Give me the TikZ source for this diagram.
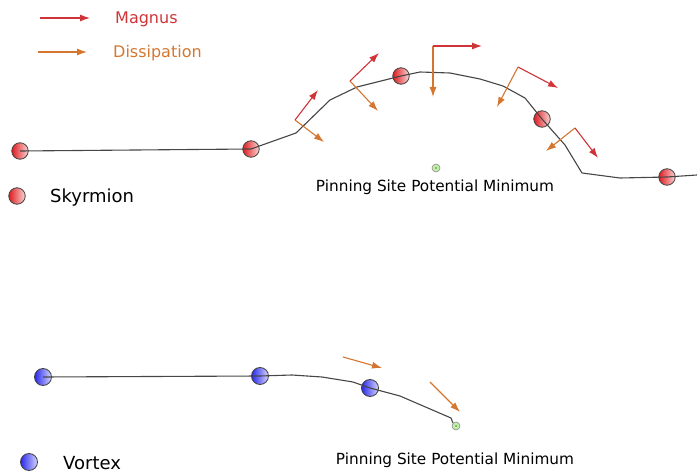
\documentclass[tikz,border=0pt]{standalone}
\usepackage{fontspec}
\setmainfont{DejaVu Sans}
\usetikzlibrary{arrows.meta}
\definecolor{magnus}{RGB}{208,52,56}
\definecolor{dissip}{RGB}{212,118,48}
\definecolor{track}{RGB}{70,70,70}
\tikzset{
  skball/.style={circle, draw=black!75, line width=0.8pt, minimum size=16.5pt, inner sep=0pt,
    left color={rgb,255:red,222;green,28;blue,32}, right color={rgb,255:red,250;green,212;blue,212}},
  vxball/.style={circle, draw=black!75, line width=0.8pt, minimum size=17pt, inner sep=0pt,
    left color={rgb,255:red,40;green,40;blue,235}, right color={rgb,255:red,214;green,214;blue,255}},
  pinsite/.style={circle, draw=black!45, line width=0.6pt, minimum size=8pt, inner sep=0pt,
    fill={rgb,255:red,196;green,236;blue,172}},
  pindot/.style={circle, fill={rgb,255:red,110;green,196;blue,80}, minimum size=2.5pt, inner sep=0pt},
  trackline/.style={draw=track, line width=1.1pt, line join=round},
  magarrow/.style={draw=magnus, line width=1.1pt, -{Latex[length=10pt,width=7pt]}},
  disarrow/.style={draw=dissip, line width=1.1pt, -{Latex[length=10pt,width=7pt]}},
  legtext/.style={anchor=west, inner sep=0pt, font=\fontsize{16}{19}\selectfont},
  keytext/.style={anchor=west, inner sep=0pt, font=\fontsize{18}{21}\selectfont},
  pintext/.style={inner sep=0pt, font=\fontsize{15.3}{18}\selectfont}
}
\begin{document}
\begin{tikzpicture}[x=1pt, y=-1pt]
\useasboundingbox (0,0) rectangle (697,473);

% legend for the two forces
\coordinate (lm0) at (40,18);  \coordinate (lm1) at (90,18);
\coordinate (ld0) at (38,52);  \coordinate (ld1) at (87,52);
\draw[magarrow] (lm0) -- (lm1);
\draw[disarrow] (ld0) -- (ld1);
\node[legtext, text=magnus] (lmt) at (115,19) {Magnus};
\node[legtext, text=dissip] (ldt) at (113,53) {Dissipation};

% skyrmion trajectory
\node[skball] (s1) at (20,151) {};
\node[skball] (s2) at (251,149) {};
\node[skball] (s3) at (401,76) {};
\node[skball] (s4) at (542,119) {};
\node[skball] (s5) at (667,177) {};
\node[pinsite] (p1) at (436,168) {};
\node[pindot] at (p1) {};
\node[pintext] (p1t) at (435,187) {Pinning Site Potential Minimum};

\coordinate (a1) at (296,133); \coordinate (a2) at (330,100); \coordinate (a3) at (357,87);
\coordinate (b1) at (420,72);  \coordinate (b2) at (450,73);  \coordinate (b3) at (480,79);
\coordinate (b4) at (503,86);  \coordinate (b5) at (525,98);
\coordinate (c1) at (565,145); \coordinate (c2) at (582,173); \coordinate (c3) at (620,178);
\coordinate (send) at (697,175);
\draw[trackline] (s1.center) -- (s2.center) -- (a1) -- (a2) -- (a3) -- (s3.center)
  -- (b1) -- (b2) -- (b3) -- (b4) -- (b5) -- (s4.center) -- (c1) -- (c2) -- (c3)
  -- (s5.center) -- (send);

% force pairs along the skyrmion path
\coordinate (f1) at (295,120); \coordinate (f1m) at (318,90);  \coordinate (f1d) at (324,142);
\coordinate (f2) at (350,81);  \coordinate (f2m) at (379,53);  \coordinate (f2d) at (378,111);
\coordinate (f3) at (433,46);  \coordinate (f3m) at (482,46);  \coordinate (f3d) at (433,97);
\coordinate (f4) at (518,67);  \coordinate (f4m) at (558,88);  \coordinate (f4d) at (497,107);
\coordinate (f5) at (575,128); \coordinate (f5m) at (598,158); \coordinate (f5d) at (546,151);
\foreach \f in {f1,f2,f3,f4,f5}{
  \draw[disarrow] (\f) -- (\f d);
  \draw[magarrow] (\f) -- (\f m);
}

\node[skball] (ks) at (17,196) {};
\node[keytext] (kst) at (50,198) {Skyrmion};

% vortex trajectory
\node[vxball] (v1) at (43,377) {};
\node[vxball] (v2) at (260,376) {};
\node[vxball] (v3) at (370,388) {};
\node[pinsite] (p2) at (456,426) {};
\node[pindot] at (p2) {};
\node[pintext] (p2t) at (455,460) {Pinning Site Potential Minimum};

\coordinate (w1) at (292,375); \coordinate (w2) at (322,377); \coordinate (w3) at (353,382);
\coordinate (w4) at (400,396); \coordinate (w5) at (451,418);
\draw[trackline] (v1.center) -- (v2.center) -- (w1) -- (w2) -- (w3) -- (v3.center)
  -- (w4) -- (w5) -- (p2.north west);

\coordinate (g1) at (343,357); \coordinate (g1e) at (382,368);
\coordinate (g2) at (430,382); \coordinate (g2e) at (460,412);
\draw[disarrow] (g1) -- (g1e);
\draw[disarrow] (g2) -- (g2e);

\node[vxball] (kv) at (29,462) {};
\node[keytext] (kvt) at (63,463) {Vortex};
\end{tikzpicture}
\end{document}
